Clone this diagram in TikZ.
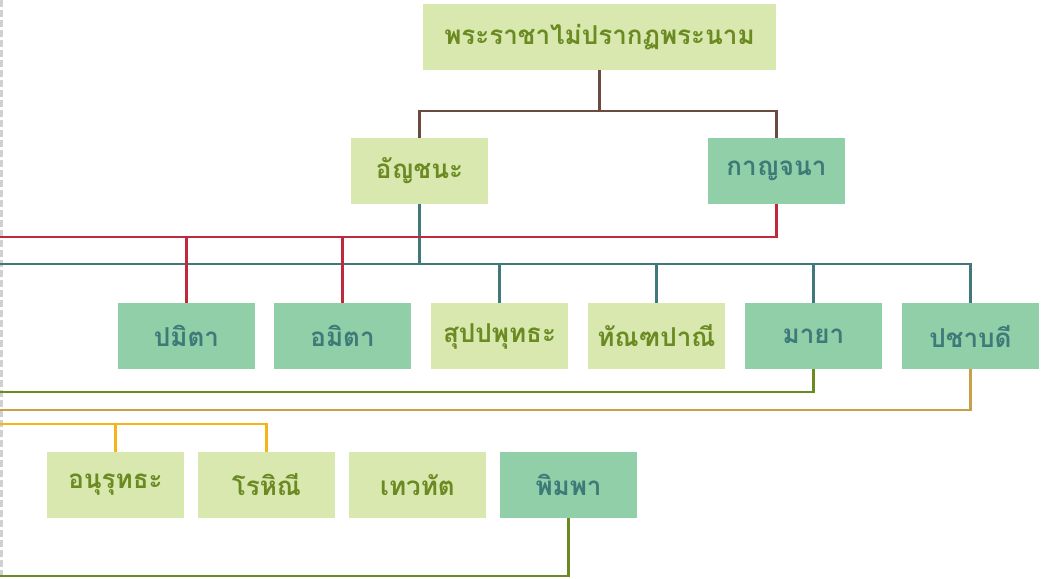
\documentclass[tikz,border=0pt]{standalone}
\usepackage{fontspec}
\newfontfamily\thaifont[Script=Thai]{Loma}
\usetikzlibrary{positioning,calc}

\definecolor{boxlight}{HTML}{D8E8AE}
\definecolor{boxdark}{HTML}{90CFA8}
\definecolor{textolive}{HTML}{6B8A22}
\definecolor{textteal}{HTML}{3E7A78}
\definecolor{linebrown}{HTML}{6B4A40}
\definecolor{linered}{HTML}{C0283C}
\definecolor{lineteal}{HTML}{40787C}
\definecolor{lineolive}{HTML}{6B8A22}
\definecolor{linetan}{HTML}{C8A04C}
\definecolor{lineyellow}{HTML}{F5B51A}
\definecolor{linegray}{HTML}{D0D0D0}

\begin{document}
\begin{tikzpicture}[x=1pt,y=-1pt,
    lightbox/.style={fill=boxlight, text=textolive, minimum width=137pt, minimum height=66pt,
        inner sep=0pt, font=\thaifont\bfseries\fontsize{26}{30}\selectfont},
    darkbox/.style={lightbox, fill=boxdark, text=textteal},
    link/.style={line width=2.6pt}]
            \useasboundingbox (0,0) rectangle (1043,578);
            \draw[linegray, line width=3pt, dash pattern=on 7pt off 3pt] (1.5,0) -- (1.5,578);

            % generations
            \node[lightbox, minimum width=353pt] (king) at (599.5,37) {พระราชาไม่ปรากฏพระนาม};
            \node[lightbox] (anchana) at (419.5,171) {อัญชนะ};
            \node[darkbox] (kanchana) at (776.5,171) {กาญจนา};

            \node[darkbox] (pamita) at (186.5,336) {ปมิตา};
            \node[darkbox] (amita) at (342.5,336) {อมิตา};
            \node[lightbox] (suppa) at (499.5,336) {สุปปพุทธะ};
            \node[lightbox] (dandapani) at (656.5,336) {ทัณฑปาณี};
            \node[darkbox] (maya) at (813.5,336) {มายา};
            \node[darkbox] (pajabodi) at (970.5,336) {ปชาบดี};

            \node[lightbox] (anurud) at (115.5,485) {อนุรุทธะ};
            \node[lightbox] (rohini) at (266.5,485) {โรหิณี};
            \node[lightbox] (devadat) at (417.5,485) {เทวทัต};
            \node[darkbox] (pimpa) at (568.5,485) {พิมพา};

            % free ends on the left
            \coordinate (jking) at (599.5,111);
            \coordinate (redend) at (0,237);
            \coordinate (tealend) at (0,264);
            \coordinate (mayaend) at (0,392);
            \coordinate (pajaend) at (0,410);
            \coordinate (yellowend) at (0,424);
            \coordinate (pimpaend) at (0,576);

            \draw[link, linebrown] (king.south) -- (jking);
            \draw[link, linebrown] (anchana.north) |- (jking) -| (kanchana.north);

            \draw[link, lineteal] (tealend) -| (pajabodi.north);
            \draw[link, lineteal] (anchana.south) -- (anchana.south |- tealend);
            \draw[link, lineteal] (suppa.north) -- (suppa.north |- tealend);
            \draw[link, lineteal] (dandapani.north) -- (dandapani.north |- tealend);
            \draw[link, lineteal] (maya.north) -- (maya.north |- tealend);

            \draw[link, linered] (kanchana.south) |- (redend);
            \draw[link, linered] (pamita.north) -- (pamita.north |- redend);
            \draw[link, linered] (amita.north) -- (amita.north |- redend);

            \draw[link, lineolive] (maya.south) |- (mayaend);
            \draw[link, linetan] (pajabodi.south) |- (pajaend);

            \draw[link, lineyellow] (yellowend) -| (rohini.north);
            \draw[link, lineyellow] (anurud.north) -- (anurud.north |- yellowend);

            \draw[link, lineolive] (pimpa.south) |- (pimpaend);
        \end{tikzpicture}
\end{document}
